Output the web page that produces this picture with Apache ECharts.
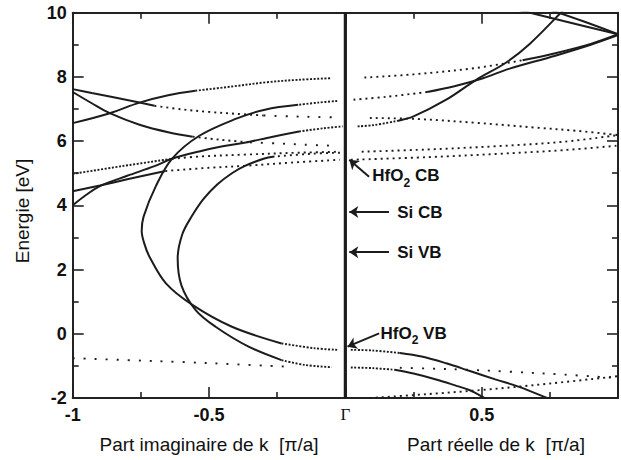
<!DOCTYPE html>
<html>
<head>
<meta charset="utf-8">
<script src="https://cdn.jsdelivr.net/npm/echarts@6.0.0/dist/echarts.min.js"></script>
<style>html,body{margin:0;padding:0;background:#fff}#c{width:621px;height:460px}</style>
</head>
<body>
<div id="c"></div>
<script>
// ---------- tick labels ----------
const xTickValues = [-1, -0.5, 0, 0.5];
const xTickLabels = ['-1', '-0.5', 'Γ', '0.5'];
const yTickValues = [-2, 0, 2, 4, 6, 8, 10];
const yTickLabels = ['-2', '0', '2', '4', '6', '8', '10'];
const axisTitles = ['Part imaginaire de k\u00a0 [π/a]', 'Part réelle de k\u00a0 [π/a]', 'Energie [eV]'];

// ---------- imaginary-k branch (x < 0) ----------
const imA_solid  = [[-1,7.62],[-0.93,7.5],[-0.864,7.39],[-0.755,7.2],[-0.7,7.1]];
const imA_dot    = [[-0.7,7.1],[-0.6,6.99],[-0.5,6.91],[-0.4,6.85],[-0.3,6.8]];
const imA_sparse = [[-0.3,6.8],[-0.2,6.77],[-0.1,6.75],[-0.04,6.74]];

const imB_solid  = [[-1,7.53],[-0.93,7.18],[-0.864,6.87],[-0.755,6.51],[-0.646,6.27],[-0.56,6.14]];
const imB_dot    = [[-0.56,6.14],[-0.5,6.08],[-0.417,6.01],[-0.35,5.96]];
const imB_sparse = [[-0.35,5.96],[-0.25,5.93],[-0.15,5.89],[-0.06,5.86]];

const imC_solid  = [[-1,6.56],[-0.864,6.87],[-0.755,7.2],[-0.65,7.43],[-0.55,7.57]];
const imC_dot    = [[-0.55,7.57],[-0.417,7.7],[-0.293,7.83],[-0.173,7.91],[-0.05,7.96]];

const imD_solid  = [[-1,4.0],[-0.95,4.33],[-0.9,4.6],[-0.8,4.92],[-0.7,5.22],[-0.636,5.45],[-0.536,5.68],[-0.45,5.84],[-0.37,5.95],[-0.27,6.13],[-0.17,6.3]];
const imD_dense  = [[-0.17,6.3],[-0.08,6.4],[-0.01,6.46]];

const imE_dense  = [[-1,4.98],[-0.82,5.22],[-0.636,5.45]];
const imE_dot    = [[-0.636,5.45],[-0.536,5.52],[-0.37,5.58],[-0.17,5.64],[-0.02,5.67]];

const imF_solid  = [[-1,4.44],[-0.9,4.62],[-0.8,4.81],[-0.66,5.07]];
const imF_dot    = [[-0.66,5.07],[-0.5,5.17],[-0.37,5.23],[-0.2,5.33],[-0.02,5.42]];

const imG_upperDense = [[-0.03,7.25],[-0.1,7.2],[-0.173,7.13]];
const imG_solid  = [[-0.173,7.13],[-0.295,6.98],[-0.4,6.7],[-0.537,6.16],[-0.636,5.45],[-0.695,4.6],[-0.74,3.65],[-0.747,3.2],[-0.737,2.8],[-0.719,2.41],[-0.658,1.57],[-0.561,0.9],[-0.416,0.22],[-0.234,-0.3]];
const imG_lowerDense = [[-0.234,-0.3],[-0.113,-0.45],[-0.03,-0.5]];

const imH_upperDot = [[-0.02,5.64],[-0.12,5.61],[-0.26,5.52]];
const imH_solid  = [[-0.26,5.52],[-0.3,5.45],[-0.37,5.22],[-0.416,5.0],[-0.47,4.65],[-0.52,4.2],[-0.564,3.65],[-0.598,3.1],[-0.615,2.35],[-0.601,1.5],[-0.549,0.74],[-0.476,0.22],[-0.355,-0.4],[-0.234,-0.82]];
const imH_lowerDense = [[-0.234,-0.82],[-0.149,-0.97],[-0.05,-1.04]];

const imI_sparse = [[-1,-0.76],[-0.8,-0.82],[-0.6,-0.88],[-0.4,-0.95],[-0.2,-1.03]];

// ---------- real-k branch (x > 0) ----------
const reA_dot    = [[0.07,7.98],[0.25,8.08],[0.48,8.28],[0.65,8.52]];
const reA_solid  = [[0.65,8.52],[0.77,8.74],[0.9,9.03],[1.0,9.33]];
const reB_dot    = [[0.03,7.29],[0.15,7.38],[0.3,7.53]];
const reB_solid  = [[0.3,7.53],[0.4,7.71],[0.505,7.96],[0.6,8.25],[0.77,8.66],[0.9,9.0],[1.0,9.3]];
const reC_dense  = [[0.045,6.46],[0.105,6.5],[0.19,6.63]];
const reC_solid  = [[0.19,6.63],[0.25,6.77],[0.37,7.29],[0.48,7.91],[0.59,8.45],[0.675,9.02],[0.79,10.0],[0.82,10.3]];
const reG1_solid = [[0.62,10.12],[0.8,9.74],[1.0,9.33]];
const reG2_solid = [[0.74,10.12],[0.87,9.74],[1.0,9.33]];
const reD_dot    = [[0.09,6.72],[0.26,6.69],[0.48,6.57],[0.7,6.42],[0.85,6.32],[1.0,6.19]];
const reE_dot    = [[0.06,5.67],[0.3,5.74],[0.55,5.84],[0.8,5.98],[1.0,6.19]];
const reF_dot    = [[0.02,5.42],[0.3,5.5],[0.55,5.6],[0.8,5.72],[1.0,5.86]];
const reVB1_dense = [[0.02,-0.5],[0.1,-0.52],[0.2,-0.6]];
const reVB1_solid = [[0.2,-0.6],[0.28,-0.71],[0.37,-0.92],[0.457,-1.16],[0.55,-1.42],[0.64,-1.66],[0.74,-2.0],[0.76,-2.07]];
const reVB2_dense = [[0.02,-1.05],[0.1,-1.07],[0.18,-1.12]];
const reVB2_solid = [[0.18,-1.12],[0.25,-1.24],[0.336,-1.43],[0.4,-1.6],[0.457,-1.76],[0.51,-2.0],[0.53,-2.1]];
const reJ_sparse = [[0.2,-1.06],[0.3,-1.08],[0.45,-1.12],[0.6,-1.18],[0.8,-1.27],[1.0,-1.38]];
const reK_dot    = [[0.09,-2.0],[0.25,-1.91],[0.5,-1.75],[0.75,-1.55],[1.0,-1.32]];

const gammaLine = [[0,-2],[0,10]];

// ---------- annotations ----------
const annotationTexts = ['{m|HfO}{s|2}{m| CB}', '{m|Si CB}', '{m|Si VB}', '{m|HfO}{s|2}{m| VB}'];
const annotationTextAt = [[0.099,4.92],[0.19,3.79],[0.19,2.54],[0.129,0.02]];
const annotationArrows = [
  [[0.087,4.89],[0.0145,5.42]],
  [[0.16,3.79],[0.0145,3.79]],
  [[0.16,2.54],[0.0145,2.54]],
  [[0.124,0.015],[0.008,-0.40]]
];

// ---------- build ----------
const INK = '#111111';
const dashes = { solid: 'solid', dense: [2, 1.6], dot: [2, 4], sparse: [2, 9] };
const segments = [
  [imA_solid,'solid'],[imA_dot,'dot'],[imA_sparse,'sparse'],
  [imB_solid,'solid'],[imB_dot,'dot'],[imB_sparse,'sparse'],
  [imC_solid,'solid'],[imC_dot,'dense'],
  [imD_solid,'solid'],[imD_dense,'dense'],
  [imE_dense,'dense'],[imE_dot,'dot'],
  [imF_solid,'solid'],[imF_dot,'dot'],
  [imG_upperDense,'dense'],[imG_solid,'solid'],[imG_lowerDense,'dense'],
  [imH_upperDot,'dot'],[imH_solid,'solid'],[imH_lowerDense,'dense'],
  [imI_sparse,'sparse'],
  [reA_dot,'dot'],[reA_solid,'solid'],
  [reB_dot,'dot'],[reB_solid,'solid'],
  [reC_dense,'dense'],[reC_solid,'solid'],
  [reG1_solid,'solid'],[reG2_solid,'solid'],
  [reD_dot,'dot'],[reE_dot,'dot'],[reF_dot,'dot'],
  [reVB1_dense,'dense'],[reVB1_solid,'solid'],
  [reVB2_dense,'dense'],[reVB2_solid,'solid'],
  [reJ_sparse,'sparse'],[reK_dot,'dot']
];

const series = segments.map(([data, kind]) => ({
  type: 'line', data: data, smooth: 0.35, showSymbol: false, symbol: 'none',
  silent: true, clip: true,
  lineStyle: { color: '#1c1c1c', width: kind === 'solid' ? 2 : 1.9, type: dashes[kind], cap: 'butt' }
}));

series.push({
  type: 'line', data: gammaLine, showSymbol: false, symbol: 'none', silent: true,
  lineStyle: { color: '#1c1c1c', width: 3.2 }, z: 5
});

series.push({
  type: 'lines', coordinateSystem: 'cartesian2d', silent: true, z: 6,
  symbol: ['none', 'arrow'], symbolSize: [0, 9],
  lineStyle: { color: '#1c1c1c', width: 2, opacity: 1, curveness: 0 },
  data: annotationArrows.map(c => ({ coords: c }))
});

series.push({
  type: 'scatter', silent: true, symbolSize: 0, z: 7,
  itemStyle: { color: INK, opacity: 1 },
  data: annotationTextAt.map((p, i) => ({ value: p, label: { formatter: annotationTexts[i] } })),
  label: {
    show: true, position: 'right', distance: 0, color: INK, opacity: 1,
    textBorderWidth: 0,
    rich: {
      m: { fontFamily: 'Liberation Sans', fontWeight: 'bold', fontSize: 17, lineHeight: 26, color: INK, opacity: 1 },
      s: { fontFamily: 'Liberation Sans', fontWeight: 'bold', fontSize: 12, lineHeight: 12, verticalAlign: 'bottom', color: INK, opacity: 1 }
    }
  }
});

function xLabel(v) {
  for (let i = 0; i < xTickValues.length; i++) {
    if (Math.abs(v - xTickValues[i]) < 1e-9) {
      return xTickLabels[i] === 'Γ' ? '{g|Γ}' : xTickLabels[i];
    }
  }
  return '';
}
function yLabel(v) {
  for (let i = 0; i < yTickValues.length; i++) {
    if (Math.abs(v - yTickValues[i]) < 1e-9) return yTickLabels[i];
  }
  return '';
}

const axisLine = { show: true, onZero: false, lineStyle: { color: '#222', width: 2 } };
const majorTick = { show: true, inside: true, length: 11, lineStyle: { color: '#222', width: 1.6 } };
const minorTick = { show: true, splitNumber: 2, length: 6, lineStyle: { color: '#222', width: 1.6 } };

const xBase = { type: 'value', min: -1, max: 1, interval: 0.5, axisLine, axisTick: majorTick, minorTick, splitLine: { show: false }, minorSplitLine: { show: false } };
const yBase = { type: 'value', min: -2, max: 10, interval: 2, axisLine, axisTick: majorTick, minorTick, splitLine: { show: false }, minorSplitLine: { show: false } };

const option = {
  animation: false,
  backgroundColor: '#fff',
  grid: { left: 72.7, right: -1.7, top: 12.7, bottom: 62, containLabel: false },
  xAxis: [
    Object.assign({}, xBase, { position: 'bottom',
      axisLabel: { show: true, margin: 8, formatter: xLabel, color: INK, fontFamily: 'Liberation Sans', fontWeight: 'bold', fontSize: 18,
        rich: { g: { fontFamily: 'Liberation Serif', fontWeight: 'normal', fontSize: 17, color: INK } } } }),
    Object.assign({}, xBase, { position: 'top', axisLabel: { show: false } })
  ],
  yAxis: [
    Object.assign({}, yBase, { position: 'left',
      axisLabel: { show: true, margin: 6, formatter: yLabel, color: INK, fontFamily: 'Liberation Sans', fontWeight: 'bold', fontSize: 18 } }),
    Object.assign({}, yBase, { position: 'right', axisLabel: { show: false } })
  ],
  graphic: [
    { type: 'text', x: 209, y: 444, silent: true,
      style: { text: axisTitles[0], fontFamily: 'Liberation Sans', fontSize: 19, fill: INK, textAlign: 'center', textVerticalAlign: 'middle', align: 'center', verticalAlign: 'middle' } },
    { type: 'text', x: 496, y: 444, silent: true,
      style: { text: axisTitles[1], fontFamily: 'Liberation Sans', fontSize: 19, fill: INK, textAlign: 'center', textVerticalAlign: 'middle', align: 'center', verticalAlign: 'middle' } },
    { type: 'text', x: 22, y: 211, rotation: Math.PI / 2, silent: true,
      style: { text: axisTitles[2], fontFamily: 'Liberation Sans', fontSize: 19, fill: INK, textAlign: 'center', textVerticalAlign: 'middle', align: 'center', verticalAlign: 'middle' } }
  ],
  series: series
};

const chart = echarts.init(document.getElementById('c'), null, { renderer: 'svg', width: 621, height: 460 });
chart.setOption(option);
</script>
</body>
</html>
